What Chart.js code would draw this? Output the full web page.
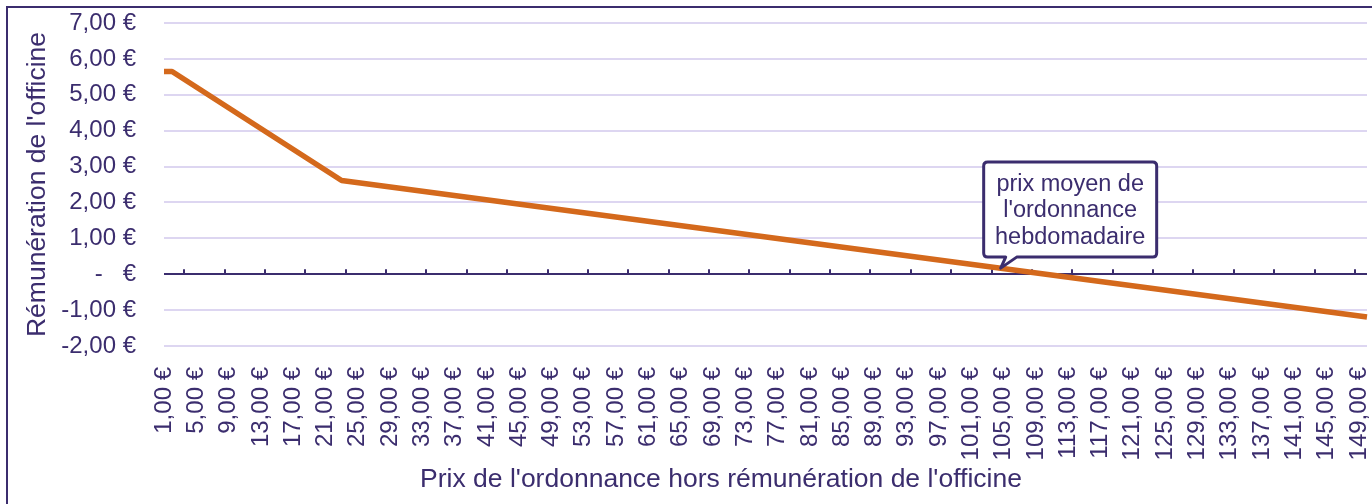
<!DOCTYPE html>
<html>
<head>
<meta charset="utf-8">
<script src="https://cdn.jsdelivr.net/npm/chart.js@4/dist/chart.umd.min.js"></script>
<style>
  html, body { margin: 0; padding: 0; background: #ffffff; overflow: hidden; width: 1372px; height: 504px; }
  #frame { position: absolute; left: 6px; top: 6px; width: 2000px; height: 2000px; border: 2px solid #3b2d6e; box-sizing: border-box; }
  #c { position: absolute; left: 0; top: 0; }
</style>
</head>
<body>
<div id="frame"></div>
<canvas id="c" width="1372" height="504"></canvas>
<script>
// ---- data ----
const priceFirst = 1;            // first category (€)
const priceLast = 150;           // last category (€)
const labelEvery = 4;            // one tick label every 4 categories
const yTickValues = [7, 6, 5, 4, 3, 2, 1, 0, -1, -2];
const yTickLabels = ['7,00 €', '6,00 €', '5,00 €', '4,00 €', '3,00 €', '2,00 €', '1,00 €', '-\u00a0\u00a0\u00a0€', '-1,00 €', '-2,00 €'];
// break points of the remuneration curve
const breakPrices = [1, 2, 23, 150];
const breakValues = [5.65, 5.65, 2.61, -1.19];
// callout
const calloutPrice = 105;
const calloutValue = 0.17;
const calloutLines = ['prix moyen de', "l'ordonnance", 'hebdomadaire'];
const xTitle = "Prix de l'ordonnance hors rémunération de l'officine";
const yTitle = "Rémunération de l'officine";

// ---- build ----
const fmt = v => v.toFixed(2).replace('.', ',') + ' €';
const categories = [];
for (let p = priceFirst; p <= priceLast; p++) categories.push(fmt(p));
const lineData = breakPrices.map((p, i) => ({ x: fmt(p), y: breakValues[i] }));

const TEXT = '#3b2d6e';
const GRID = '#ddd6f1';
const FONT = "'Liberation Sans', Arial, sans-serif";

const zeroPad = s => { s.paddingLeft = 0; s.paddingRight = 0; s.paddingTop = 0; s.paddingBottom = 0; };

const axisTicks = {
  id: 'axisTicks',
  beforeDatasetsDraw(chart) {
    const xs = chart.scales.x, ys = chart.scales.y, ctx = chart.ctx;
    const y0 = ys.getPixelForValue(0);
    ctx.save();
    ctx.strokeStyle = TEXT;
    ctx.lineWidth = 2;
    for (let v = 2.5; v < categories.length - 1; v += 5) {
      const x = Math.round(xs.getPixelForValue(v));
      ctx.beginPath();
      ctx.moveTo(x, y0);
      ctx.lineTo(x, y0 - 5);
      ctx.stroke();
    }
    ctx.restore();
  }
};

const titles = {
  id: 'titles',
  afterDraw(chart) {
    const ctx = chart.ctx, a = chart.chartArea;
    ctx.save();
    ctx.fillStyle = TEXT;
    ctx.textAlign = 'center';
    ctx.textBaseline = 'middle';
    ctx.font = '26.5px ' + FONT;
    ctx.fillText(xTitle, 721, 480);
    ctx.translate(38, (a.top + a.bottom) / 2);
    ctx.rotate(-Math.PI / 2);
    ctx.font = '26.5px ' + FONT;
    ctx.fillText(yTitle, 0, 0);
    ctx.restore();
  }
};

const callout = {
  id: 'callout',
  afterDatasetsDraw(chart) {
    const xs = chart.scales.x, ys = chart.scales.y, ctx = chart.ctx;
    const tx = xs.getPixelForValue(fmt(calloutPrice)) - 3;
    const ty = ys.getPixelForValue(calloutValue);
    const L = tx - 17, R = tx + 156, T = ty - 106, B = ty - 11, r = 4;
    const b1 = tx + 5, b2 = tx + 16;
    ctx.save();
    ctx.beginPath();
    ctx.moveTo(L + r, T);
    ctx.lineTo(R - r, T);
    ctx.quadraticCurveTo(R, T, R, T + r);
    ctx.lineTo(R, B - r);
    ctx.quadraticCurveTo(R, B, R - r, B);
    ctx.lineTo(b2, B);
    ctx.lineTo(tx, ty);
    ctx.lineTo(b1, B);
    ctx.lineTo(L + r, B);
    ctx.quadraticCurveTo(L, B, L, B - r);
    ctx.lineTo(L, T + r);
    ctx.quadraticCurveTo(L, T, L + r, T);
    ctx.closePath();
    ctx.fillStyle = '#ffffff';
    ctx.fill();
    ctx.lineWidth = 3;
    ctx.lineJoin = 'round';
    ctx.strokeStyle = TEXT;
    ctx.stroke();
    ctx.fillStyle = TEXT;
    ctx.font = '23.5px ' + FONT;
    ctx.textAlign = 'center';
    ctx.textBaseline = 'middle';
    const cx = (L + R) / 2;
    calloutLines.forEach((s, i) => ctx.fillText(s, cx, T + 22 + i * 26.5));
    ctx.restore();
  }
};

new Chart(document.getElementById('c'), {
  type: 'line',
  data: {
    labels: categories,
    datasets: [{
      data: lineData,
      borderColor: '#d4691c',
      borderWidth: 5.5,
      pointRadius: 0,
      tension: 0,
      fill: false,
      borderJoinStyle: 'round',
      borderCapStyle: 'butt'
    }]
  },
  options: {
    responsive: false,
    animation: false,
    devicePixelRatio: 1,
    layout: { padding: { left: 0, top: 23, right: 5, bottom: 0 } },
    plugins: { legend: { display: false }, tooltip: { enabled: false } },
    scales: {
      x: {
        type: 'category',
        offset: false,
        grid: { display: false, drawTicks: false },
        border: { display: false },
        ticks: {
          autoSkip: false,
          maxRotation: 90,
          minRotation: 90,
          padding: 21,
          color: TEXT,
          font: { family: FONT, size: 24 },
          callback: (v, i) => (i % labelEvery === 0 ? categories[i] : '')
        },
        afterFit: s => { s.height = 158; zeroPad(s); }
      },
      y: {
        min: -2,
        max: 7,
        grid: {
          drawTicks: false,
          color: c => (c.tick && c.tick.value === 0 ? TEXT : GRID),
          lineWidth: 2
        },
        border: { display: false },
        afterBuildTicks: s => { s.ticks = yTickValues.map(v => ({ value: v })); },
        ticks: {
          padding: 28,
          color: TEXT,
          font: { family: FONT, size: 24 },
          callback: v => yTickLabels[yTickValues.indexOf(v)]
        },
        afterFit: s => { s.width = 164; zeroPad(s); }
      }
    }
  },
  plugins: [axisTicks, callout, titles]
});
</script>
</body>
</html>
